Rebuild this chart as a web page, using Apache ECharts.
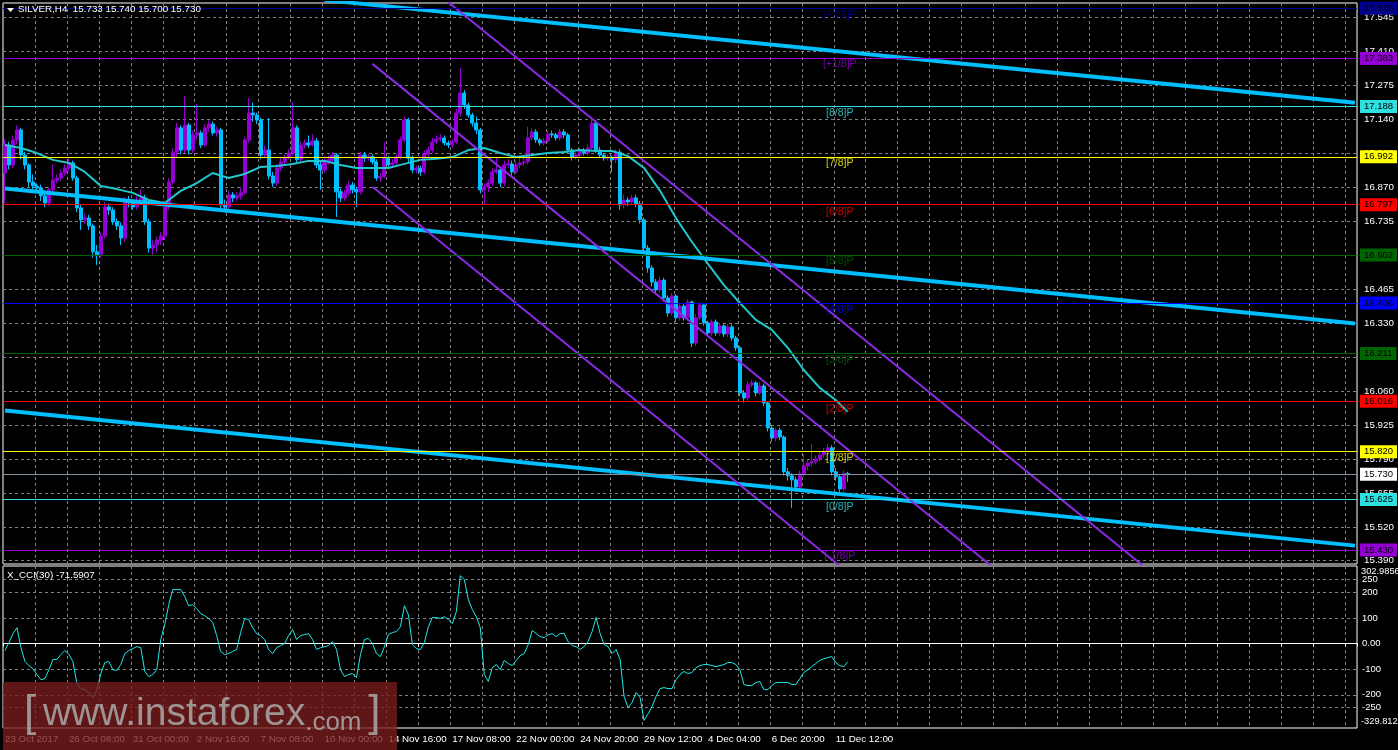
<!DOCTYPE html>
<html><head><meta charset="utf-8">
<script src="https://cdn.jsdelivr.net/npm/echarts@6/dist/echarts.min.js"></script>
<style>html,body{margin:0;padding:0;background:#000;}#c{width:1398px;height:750px;}</style>
</head><body><div id="c"></div>
<script>
// ---------- DATA ----------
const symbolName = 'SILVER,H4';
const timeLabels = ['23 Oct 2017','26 Oct 08:00','31 Oct 00:00','2 Nov 16:00','7 Nov 08:00','10 Nov 00:00','14 Nov 16:00','17 Nov 08:00','22 Nov 00:00','24 Nov 20:00','29 Nov 12:00','4 Dec 04:00','6 Dec 20:00','11 Dec 12:00'];
const barsPerLabel = 16;
const totalSlots = 339;

const open = [16.926,
17.037,16.958,17.057,17.097,16.997,16.958,16.890,16.874,16.866,16.835,
16.807,16.859,16.898,16.906,16.926,16.946,16.966,16.906,16.787,16.740,
16.747,16.716,16.613,16.601,16.676,16.791,16.779,16.732,16.716,16.668,
16.819,16.807,16.791,16.819,16.827,16.732,16.628,16.640,16.660,16.676,
16.791,16.890,17.009,17.105,17.017,17.116,17.017,17.077,17.085,17.037,
17.105,17.120,17.085,17.097,16.799,16.791,16.839,16.827,16.835,16.847,
17.057,17.164,17.156,17.136,16.997,17.017,16.914,16.886,16.946,16.970,
16.989,17.005,17.105,16.978,17.037,17.045,17.037,17.053,16.958,16.938,
16.970,16.978,16.997,16.851,16.827,16.847,16.878,16.859,16.851,16.997,
16.985,16.990,16.970,16.906,16.912,16.985,16.958,16.966,16.989,17.057,
17.136,16.985,16.938,16.945,16.930,17.001,17.017,17.049,17.061,17.065,
17.045,17.037,17.049,17.164,17.243,17.196,17.156,17.124,17.097,16.859,
16.870,16.886,16.930,16.938,16.886,16.958,16.962,16.930,16.958,16.966,
16.970,17.065,17.089,17.057,17.045,17.053,17.081,17.077,17.065,17.089,
17.077,17.017,16.989,16.997,17.013,17.005,17.025,17.124,17.017,16.997,
16.985,16.989,16.978,17.009,16.799,16.819,16.811,16.827,16.803,16.740,
16.628,16.549,16.493,16.462,16.501,16.430,16.370,16.438,16.351,16.398,
16.351,16.414,16.251,16.351,16.402,16.331,16.291,16.335,16.291,16.319,
16.287,16.315,16.271,16.232,16.053,16.033,16.085,16.093,16.053,16.081,
16.013,15.914,15.874,15.905,15.878,15.740,15.724,15.708,15.680,15.732,
15.763,15.775,15.780,15.791,15.807,15.819,15.835,15.740,15.720,15.672,
15.733];
const close = [
17.037,16.958,17.057,17.097,16.997,16.958,16.890,16.874,16.866,16.835,
16.807,16.859,16.898,16.906,16.926,16.946,16.966,16.906,16.787,16.740,
16.747,16.716,16.613,16.601,16.676,16.791,16.779,16.732,16.716,16.668,
16.819,16.807,16.791,16.819,16.827,16.732,16.628,16.640,16.660,16.676,
16.791,16.890,17.009,17.105,17.017,17.116,17.017,17.077,17.085,17.037,
17.105,17.120,17.085,17.097,16.799,16.791,16.839,16.827,16.835,16.847,
17.057,17.164,17.156,17.136,16.997,17.017,16.914,16.886,16.946,16.970,
16.989,17.005,17.105,16.978,17.037,17.045,17.037,17.053,16.958,16.938,
16.970,16.978,16.997,16.851,16.827,16.847,16.878,16.859,16.851,16.997,
16.985,16.990,16.970,16.906,16.912,16.985,16.958,16.966,16.989,17.057,
17.136,16.985,16.938,16.945,16.930,17.001,17.017,17.049,17.061,17.065,
17.045,17.037,17.049,17.164,17.243,17.196,17.156,17.124,17.097,16.859,
16.870,16.886,16.930,16.938,16.886,16.958,16.962,16.930,16.958,16.966,
16.970,17.065,17.089,17.057,17.045,17.053,17.081,17.077,17.065,17.089,
17.077,17.017,16.989,16.997,17.013,17.005,17.025,17.124,17.017,16.997,
16.985,16.989,16.978,17.009,16.799,16.819,16.811,16.827,16.803,16.740,
16.628,16.549,16.493,16.462,16.501,16.430,16.370,16.438,16.351,16.398,
16.351,16.414,16.251,16.351,16.402,16.331,16.291,16.335,16.291,16.319,
16.287,16.315,16.271,16.232,16.053,16.033,16.085,16.093,16.053,16.081,
16.013,15.914,15.874,15.905,15.878,15.740,15.724,15.708,15.680,15.732,
15.763,15.775,15.780,15.791,15.807,15.819,15.835,15.740,15.720,15.672,
15.733,15.730];
const high = [
17.060,17.050,17.075,17.115,17.105,17.010,16.965,16.920,16.885,16.880,
16.845,16.870,16.960,16.920,16.940,16.960,16.985,16.975,16.915,16.800,
16.765,16.760,16.725,16.640,16.690,16.810,16.805,16.790,16.745,16.730,
16.830,16.835,16.820,16.835,16.862,16.840,16.745,16.660,16.675,16.690,
16.805,16.905,17.025,17.125,17.115,17.230,17.125,17.095,17.200,17.095,
17.120,17.135,17.130,17.110,17.105,16.820,16.855,16.850,16.850,16.870,
17.070,17.224,17.205,17.165,17.145,17.035,17.144,16.930,16.960,16.985,
17.000,17.020,17.208,17.115,17.050,17.060,17.075,17.080,17.065,16.970,
16.985,16.995,17.010,17.005,16.865,16.860,16.895,16.890,16.870,17.010,
17.010,17.000,17.000,16.980,16.925,17.049,16.995,16.980,17.000,17.070,
17.150,17.145,16.995,16.955,16.955,17.015,17.030,17.065,17.075,17.080,
17.075,17.055,17.060,17.180,17.343,17.255,17.205,17.165,17.150,17.105,
16.885,16.900,16.945,16.990,16.950,16.975,16.980,16.975,16.975,16.985,
16.990,17.110,17.105,17.100,17.065,17.065,17.095,17.095,17.085,17.100,
17.100,17.085,17.025,17.010,17.025,17.025,17.040,17.148,17.135,17.030,
17.005,17.000,16.995,17.020,17.020,16.840,16.830,16.840,16.840,16.815,
16.750,16.640,16.560,16.505,16.515,16.510,16.440,16.450,16.445,16.410,
16.410,16.425,16.420,16.365,16.415,16.410,16.340,16.345,16.345,16.330,
16.330,16.325,16.325,16.280,16.240,16.065,16.100,16.105,16.100,16.095,
16.090,16.020,15.925,15.915,15.915,15.885,15.755,15.735,15.720,15.745,
15.810,15.790,15.850,15.805,15.820,15.835,15.850,15.845,15.755,15.730,
15.745,15.740];
const low = [
16.805,16.940,16.945,17.040,16.980,16.940,16.870,16.850,16.850,16.815,
16.790,16.795,16.850,16.885,16.895,16.915,16.935,16.895,16.770,16.700,
16.725,16.700,16.590,16.561,16.590,16.665,16.760,16.720,16.700,16.640,
16.655,16.790,16.780,16.780,16.810,16.720,16.610,16.600,16.610,16.640,
16.660,16.780,16.880,16.990,17.000,17.005,17.000,17.005,17.060,17.025,
17.030,17.090,17.075,17.070,16.780,16.770,16.780,16.810,16.815,16.820,
16.840,17.045,17.130,17.120,16.980,16.985,16.900,16.870,16.875,16.935,
16.960,16.980,16.995,16.965,16.965,17.025,17.025,17.030,16.945,16.859,
16.925,16.960,16.965,16.751,16.810,16.815,16.835,16.845,16.791,16.840,
16.970,16.975,16.960,16.895,16.890,16.905,16.945,16.950,16.955,16.980,
17.045,16.970,16.925,16.925,16.915,16.920,16.990,17.005,17.040,17.050,
17.035,17.025,17.025,17.040,17.150,17.180,17.145,17.110,17.080,16.845,
16.799,16.850,16.875,16.920,16.870,16.875,16.945,16.915,16.920,16.945,
16.955,16.960,17.055,17.045,17.035,17.035,17.045,17.065,17.055,17.055,
17.065,17.005,16.975,16.980,16.985,16.995,16.995,17.015,17.005,16.985,
16.975,16.975,16.930,16.965,16.780,16.785,16.795,16.800,16.790,16.725,
16.610,16.530,16.475,16.445,16.450,16.415,16.355,16.360,16.335,16.340,
16.340,16.340,16.235,16.240,16.340,16.320,16.280,16.280,16.280,16.280,
16.275,16.275,16.260,16.220,16.040,16.015,16.020,16.075,16.040,16.045,
16.000,15.900,15.860,15.860,15.865,15.725,15.705,15.597,15.660,15.660,
15.720,15.745,15.760,15.770,15.780,15.795,15.805,15.725,15.705,15.655,
15.660,15.700];

// Moving average, read every 4 bars, plus the last bar
const maStep = 4;
const maValues = [
17.037,17.025,17.005,16.978,16.966,16.930,16.874,16.862,16.847,16.819,
16.807,16.855,16.886,16.926,16.906,16.922,16.950,16.954,16.962,16.974,
16.974,16.958,16.946,16.946,16.946,16.962,16.978,16.982,16.989,17.017,
17.025,17.005,16.989,16.997,17.005,17.009,17.017,17.013,17.013,16.993,
16.946,16.855,16.747,16.652,16.565,16.481,16.410,16.343,16.303,16.232,
16.144,16.073,16.025];
const maLast = 15.978;

// CCI(30), one value per bar
const cciValues = [
-27,4,39,62,-16,-70,-86,-98,-121,-141,
-137,-102,-62,-62,-43,-27,-43,-70,-156,-176,
-180,-191,-211,-184,-117,-74,-70,-102,-105,-82,
-39,-27,-20,-12,-16,-109,-129,-121,-102,16,
74,152,211,211,211,184,148,152,137,117,
109,98,82,31,-31,-43,-39,-31,-23,43,
98,94,62,39,31,16,-23,-39,-16,-8,
0,31,55,16,31,35,39,16,-23,-16,
-12,-8,8,-23,-102,-129,-121,-117,-133,-43,
16,20,0,-39,-51,-12,35,43,47,66,
148,113,-4,-20,-23,4,66,102,102,98,
105,94,78,125,265,250,172,133,105,62,
-121,-148,-94,-82,-102,-66,-78,-86,-66,-47,
-39,-4,51,39,27,23,35,39,27,39,
39,8,-8,-12,-23,-12,8,47,102,39,
-4,-12,-39,-23,-62,-207,-250,-230,-191,-211,
-300,-275,-246,-207,-176,-172,-176,-176,-141,-121,
-109,-117,-113,-94,-86,-82,-82,-86,-90,-86,
-82,-74,-74,-82,-102,-160,-164,-164,-152,-148,
-180,-180,-164,-152,-152,-152,-152,-160,-160,-137,
-113,-102,-90,-78,-66,-59,-55,-51,-74,-86,
-90,-71.5907];
const cciName = 'X_CCI(30)';
const cciMin = -329.812, cciMax = 302.9856;
const cciTicks = [-250,-200,-100,0,100,200,250];
const cciEndLabels = ['302.9856', '-329.812'];

// price axis
const priceMin = 15.3741, priceMax = 17.6006;
const priceTicks = [15.390,15.520,15.655,15.790,15.925,16.060,16.195,16.330,16.465,16.600,16.735,16.870,17.005,17.140,17.275,17.410,17.545];

// Murrey math levels
const mmLevels = [17.578,17.383,17.188,16.992,16.797,16.602,16.406,16.211,16.016,15.820,15.625,15.430];
const mmNames  = ['[+2/8]P','[+1/8]P','[8/8]P','[7/8]P','[6/8]P','[5/8]P','[4/8]P','[3/8]P','[2/8]P','[1/8]P','[0/8]P','[-1/8]P'];
const mmColors = ['#000090','#9400D3','#30E0E0','#FFFF00','#FF0000','#006400','#0000FF','#006400','#FF0000','#FFFF00','#30E0E0','#9400D3'];
const mmLabelBar = 209;
const lastPrice = 15.730;

// trend lines (bar index, price)
const blueTrendA = [[80,17.612],[338,17.205]];
const blueTrendB = [[0,16.864],[338,16.329]];
const blueTrendC = [[0,15.983],[338,15.447]];
const violetA = [[92,17.359],[338,14.196]];
const violetB = [[92,17.848],[338,14.685]];
const violetC = [[92,16.871],[338,13.708]];

// ---------- CHART ----------
const FONT = '"Liberation Sans", Arial, sans-serif';
const barCount = close.length;
const slots = Array.from({length: totalSlots}, (_, i) => String(i));
const candleData = close.map((c, i) => [open[i], c, low[i], high[i]]);
const maData = maValues.map((v, k) => [k * maStep, v]).concat([[barCount - 1, maLast]]);
const gridLine = {show: true, lineStyle: {color: '#808080', type: [3, 3], width: 1}};
const UP = '#9400D3', DOWN = '#00BFFF';

const tagLabel = (text, bg) => ({show: true, position: 'end', distance: 3, formatter: text, backgroundColor: bg,
  color: '#000', padding: [2, 4, 1, 4], fontSize: 9.5, fontFamily: FONT});
const markData = mmLevels.map((v, i) => ({
  yAxis: v, lineStyle: {color: mmColors[i], width: 1, type: 'solid'}, label: tagLabel(v.toFixed(3), mmColors[i])
})).concat([{
  yAxis: lastPrice, lineStyle: {color: '#8090a0', width: 1, type: 'solid'}, label: tagLabel(lastPrice.toFixed(3), '#ffffff')
}]);

function lineSeries(data, color, width) {
  return {type: 'line', xAxisIndex: 0, yAxisIndex: 0, data: data, symbol: 'none', silent: true,
          clip: true, lineStyle: {color: color, width: width}, z: 4};
}

const chart = echarts.init(document.getElementById('c'));
const last = barCount - 1;
chart.setOption({
  backgroundColor: '#000',
  animation: false,
  grid: [
    {left: 3, top: 3, width: 1354, height: 561, show: true, borderColor: '#fff', borderWidth: 1, backgroundColor: '#000'},
    {left: 3, top: 566, width: 1354, height: 162, show: true, borderColor: '#fff', borderWidth: 1, backgroundColor: '#000'}
  ],
  xAxis: [
    {type: 'category', gridIndex: 0, data: slots, boundaryGap: true,
     axisLine: {show: false}, axisTick: {show: false}, axisLabel: {show: false},
     splitLine: Object.assign({}, gridLine, {interval: 7})},
    {type: 'category', gridIndex: 1, data: slots, boundaryGap: true,
     axisLine: {show: true, lineStyle: {color: '#fff'}},
     axisTick: {show: true, interval: 7, length: 3, lineStyle: {color: '#fff'}},
     axisLabel: {interval: barsPerLabel - 1, color: '#fff', fontSize: 9.8, fontFamily: FONT, align: 'left', margin: 6,
       formatter: (v, i) => (i < barCount && i % barsPerLabel === 0) ? (timeLabels[i / barsPerLabel] || '') : ''},
     splitLine: Object.assign({}, gridLine, {interval: 7})}
  ],
  yAxis: [
    {type: 'value', gridIndex: 0, position: 'right', min: priceMin, max: priceMax,
     axisLine: {show: false}, axisTick: {show: false, customValues: priceTicks},
     axisLabel: {customValues: priceTicks, color: '#fff', fontSize: 9.8, fontFamily: FONT, margin: 7,
       hideOverlap: false, showMinLabel: true, showMaxLabel: true,
       formatter: v => Number(v).toFixed(3)},
     splitLine: gridLine},
    {type: 'value', gridIndex: 1, position: 'right', min: cciMin, max: cciMax,
     axisLine: {show: false}, axisTick: {show: false, customValues: cciTicks},
     axisLabel: {customValues: cciTicks, color: '#fff', fontSize: 9.5, fontFamily: FONT, margin: 5, hideOverlap: false,
       formatter: v => (Number(v) === 0 ? '0.00' : String(v))},
     splitLine: gridLine}
  ],
  series: [
    {type: 'candlestick', xAxisIndex: 0, yAxisIndex: 0, data: candleData, barWidth: 3.6, silent: true,
     itemStyle: {color: UP, color0: DOWN, borderColor: UP, borderColor0: DOWN, borderWidth: 1},
     markLine: {silent: true, symbol: ['none', 'none'], animation: false, data: markData}, z: 3},
    lineSeries(maData, '#20C8CC', 2),
    lineSeries(blueTrendA, '#00BFFF', 4),
    lineSeries(blueTrendB, '#00BFFF', 4),
    lineSeries(blueTrendC, '#00BFFF', 4),
    lineSeries(violetA, '#8A2BE2', 2),
    lineSeries(violetB, '#8A2BE2', 2),
    lineSeries(violetC, '#8A2BE2', 2),
    {type: 'scatter', xAxisIndex: 0, yAxisIndex: 0, symbolSize: 0, silent: true, z: 5,
     data: mmLevels.map((v, i) => ({value: [mmLabelBar, v], label: {color: mmColors[i]}})),
     label: {show: true, position: 'bottom', distance: 1, fontSize: 10.5, fontFamily: FONT,
       formatter: p => mmNames[p.dataIndex]}},
    {type: 'line', xAxisIndex: 1, yAxisIndex: 1, data: cciValues, symbol: 'none', silent: true,
     lineStyle: {color: '#1EEBEB', width: 1}}
  ],
  graphic: [
    {type: 'polygon', shape: {points: [[7, 8], [14, 8], [10.5, 12]]}, style: {fill: '#fff'}, z: 100},
    {type: 'text', x: 18, y: 4, z: 100, style: {
      text: symbolName + '  ' + [open[last], high[last], low[last], close[last]].map(v => v.toFixed(3)).join(' '),
      fill: '#fff', font: '9.8px ' + FONT}},
    {type: 'text', x: 7, y: 570, z: 100, style: {
      text: cciName + ' ' + cciValues[last].toFixed(4), fill: '#fff', font: '9.8px ' + FONT}},
    {type: 'text', x: 1361, y: 567, z: 100, style: {text: cciEndLabels[0], fill: '#fff', font: '9.3px ' + FONT}},
    {type: 'text', x: 1361, y: 717, z: 100, style: {text: cciEndLabels[1], fill: '#fff', font: '9.3px ' + FONT}},
    {type: 'rect', shape: {x: 3, y: 682, width: 394, height: 68}, style: {fill: 'rgba(120,28,28,0.78)'}, z: 200},
    {type: 'text', x: 24, y: 714, z: 201, style: {
      text: '{b|[}  {a|www.instaforex}{c|.com}  {b|]}', verticalAlign: 'middle',
      rich: {a: {fontSize: 39, fontFamily: FONT, fill: 'rgba(170,170,170,0.85)'},
             c: {fontSize: 26, fontFamily: FONT, fill: 'rgba(170,170,170,0.85)', verticalAlign: 'bottom'},
             b: {fontSize: 44, fontFamily: FONT, fill: 'rgba(170,170,170,0.85)'}}}}
  ]
});
</script></body></html>
